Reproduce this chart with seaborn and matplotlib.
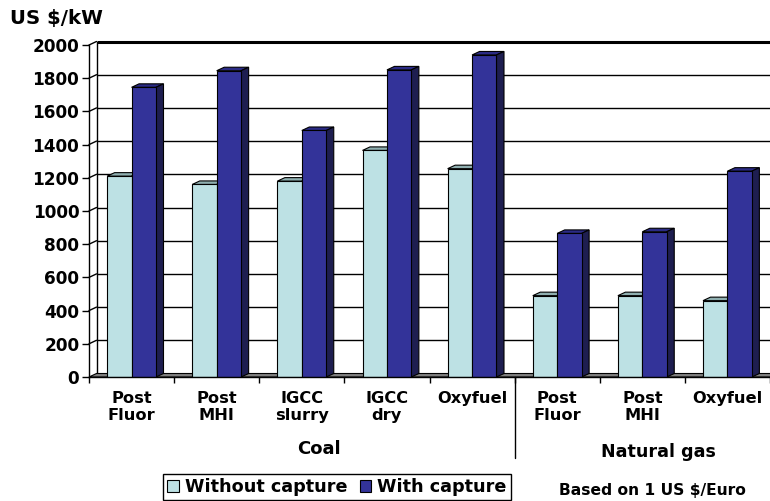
import numpy as np
import pandas as pd
import matplotlib
matplotlib.use("Agg")
import matplotlib.pyplot as plt
from matplotlib.patches import Polygon, Patch
import seaborn as sns

# ---- data -------------------------------------------------------------
technologies = ["Post\nFluor", "Post\nMHI", "IGCC\nslurry", "IGCC\ndry", "Oxyfuel",
                "Post\nFluor", "Post\nMHI", "Oxyfuel"]
fuels = ["Coal", "Coal", "Coal", "Coal", "Coal",
         "Natural gas", "Natural gas", "Natural gas"]
without_capture = [1210, 1160, 1180, 1365, 1255, 490, 490, 460]
with_capture = [1745, 1845, 1485, 1850, 1940, 865, 875, 1240]
series_names = ["Without capture", "With capture"]
y_ticks = list(range(0, 2001, 200))
group_names = ["Coal", "Natural gas"]
unit_label = "US $/kW"
note = "Based on 1 US $/Euro"

# ---- style --------------------------------------------------------------
front_colors = ["#BDE1E4", "#333399"]
top_colors = ["#8FAFB0", "#2B2B85"]
side_colors = ["#8FAFB0", "#1E1E50"]

slots = [f"{f}|{i}" for i, f in enumerate(fuels)]
df = pd.DataFrame({
    "slot": slots * 2,
    "series": [series_names[0]] * len(slots) + [series_names[1]] * len(slots),
    "cost": without_capture + with_capture,
})

sns.set_theme(style="white")
plt.rcParams["font.family"] = ["DejaVu Sans"]
plt.rcParams["font.weight"] = "bold"
plt.rcParams["text.color"] = "black"
plt.rcParams["axes.labelcolor"] = "black"
plt.rcParams["xtick.color"] = "black"
plt.rcParams["ytick.color"] = "black"

W, H = 770, 501
fig = plt.figure(figsize=(W / 100, H / 100), dpi=100)
ax = fig.add_axes([89 / W, 1 - 377 / H, (W - 89) / W, (377 - 45) / H])

sns.barplot(data=df, x="slot", y="cost", hue="series", hue_order=series_names,
            order=slots, palette=front_colors, width=0.574, saturation=1,
            edgecolor="black", linewidth=0.8, legend=False, ax=ax, zorder=3)

n = len(slots)
ax.set_xlim(-0.5, n - 0.5)
ax.set_ylim(0, 2000)
ax.set_xlabel("")
ax.set_ylabel("")

# ---- pseudo 3-D depth ----------------------------------------------------
DX, DY = 7.5, 3.5
to_disp = ax.transData.transform
to_data = ax.transData.inverted().transform


def back(pts):
    return to_data(to_disp(np.asarray(pts, float)) + [DX, DY])


for i, cont in enumerate(ax.containers):
    for bar in cont:
        x0, w, h = bar.get_x(), bar.get_width(), bar.get_height()
        front_top = [(x0, h), (x0 + w, h)]
        bt = back(front_top)
        ax.add_patch(Polygon([front_top[0], front_top[1], bt[1], bt[0]],
                             closed=True, facecolor=top_colors[i],
                             edgecolor="black", lw=0.8, zorder=2))
        front_side = [(x0 + w, 0), (x0 + w, h)]
        bs = back(front_side)
        ax.add_patch(Polygon([front_side[0], front_side[1], bs[1], bs[0]],
                             closed=True, facecolor=side_colors[i],
                             edgecolor="black", lw=0.8, zorder=2))

# floor
fl = [(-0.5, 0), (n - 0.5 + 0.2, 0)]
fb = back(fl)
ax.add_patch(Polygon([fl[0], fl[1], fb[1], fb[0]], closed=True,
                     facecolor="#808080", edgecolor="black", lw=0.8,
                     zorder=1.5, clip_on=False))

# back wall gridlines and the left wall edge
for v in y_ticks[1:]:
    p = back([(-0.5, v), (n, v)])
    ax.plot(p[:, 0], p[:, 1], color="black", lw=2.2 if v == 2000 else 1.0,
            zorder=1, clip_on=False, solid_capstyle="butt")
    d = np.vstack([[(-0.5, v)], back([(-0.5, v)])])
    ax.plot(d[:, 0], d[:, 1], color="black", lw=1.0, zorder=1, clip_on=False)
wl = back([(-0.5, 0), (-0.5, 2000)])
ax.plot(wl[:, 0], wl[:, 1], color="black", lw=1.0, zorder=1, clip_on=False)

# ---- axes -----------------------------------------------------------------
for s in ["top", "right"]:
    ax.spines[s].set_visible(False)
for s in ["left", "bottom"]:
    ax.spines[s].set_color("black")
    ax.spines[s].set_linewidth(1.0)
    ax.spines[s].set_zorder(4)

ax.set_yticks(y_ticks)
ax.tick_params(axis="y", left=True, direction="out", length=5, width=1,
               pad=2, labelsize=12.2, colors="black")
ax.set_xticks(np.arange(-0.5, n, 1.0))
ax.set_xticklabels([])
ax.set_xticks(np.arange(n), technologies, minor=True)
ax.tick_params(axis="x", which="major", bottom=True, direction="out",
               length=4.5, width=1, colors="black")
ax.tick_params(axis="x", which="minor", bottom=True, length=0, pad=10,
               labelsize=11.7, colors="black")

# separator between fuel groups
ax.plot([4.5, 4.5], [0, -0.244], transform=ax.get_xaxis_transform(),
        color="black", lw=1.0, clip_on=False)
ax.text(2.2, -0.217, group_names[0], transform=ax.get_xaxis_transform(),
        ha="center", va="center", fontsize=13, weight="bold", color="black")
ax.text(6.19, -0.226, group_names[1], transform=ax.get_xaxis_transform(),
        ha="center", va="center", fontsize=12.6, weight="bold", color="black")

fig.text(10 / W, 1 - 24 / H, unit_label, ha="left", va="baseline",
         fontsize=14.2, weight="bold", color="black")
fig.text(652 / W, 1 - 491 / H, note, ha="center", va="center",
         fontsize=11.2, weight="bold", color="black")

handles = [Patch(facecolor=c, edgecolor="black", lw=0.8) for c in front_colors]
leg = fig.legend(handles, series_names, ncol=2, loc="center",
                 bbox_to_anchor=(337 / W, 1 - 487 / H), frameon=True,
                 fancybox=False, edgecolor="black", framealpha=1,
                 fontsize=12.7, handlelength=0.65, handleheight=0.65,
                 handletextpad=0.35, columnspacing=0.7, borderpad=0.25,
                 borderaxespad=0, labelcolor="black")
leg.get_frame().set_linewidth(1.0)

fig.savefig("out.png", dpi=100, facecolor="white")
